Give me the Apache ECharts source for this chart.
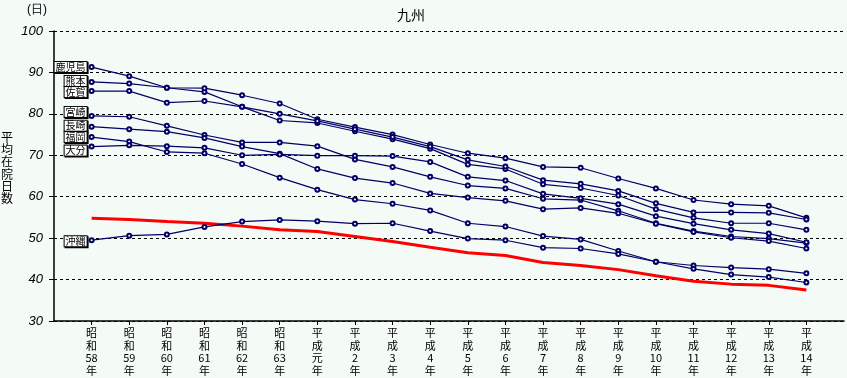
<!DOCTYPE html>
<html>
<head>
<meta charset="utf-8">
<script src="https://cdn.jsdelivr.net/npm/echarts@6/dist/echarts.min.js"></script>
<style>
  html, body { margin: 0; padding: 0; background: #f4faf6; }
  #chart { width: 847px; height: 378px; }
</style>
</head>
<body>
<div id="chart"></div>
<script>
// 年次（横軸）
var years = ['昭和58年', '昭和59年', '昭和60年', '昭和61年', '昭和62年', '昭和63年',
  '平成元年', '平成2年', '平成3年', '平成4年', '平成5年', '平成6年', '平成7年',
  '平成8年', '平成9年', '平成10年', '平成11年', '平成12年', '平成13年', '平成14年'];

// 平均在院日数（日）
var kagoshima = [91.3, 89.1, 86.3, 85.3, 81.7, 78.4, 77.8, 75.8, 73.9, 71.6, 67.8, 66.7, 63.0, 62.1, 60.3, 57.0, 54.9, 53.6, 53.6, 52.0];
var kumamoto  = [87.7, 87.3, 86.3, 86.2, 84.5, 82.5, 78.7, 76.8, 75.0, 72.6, 70.5, 69.3, 67.2, 67.0, 64.4, 62.0, 59.2, 58.2, 57.8, 54.9];
var saga      = [85.5, 85.5, 82.7, 83.1, 81.7, 80.0, 78.3, 76.3, 74.4, 72.1, 68.9, 67.3, 64.0, 63.1, 61.4, 58.4, 56.2, 56.2, 56.1, 54.5];
var miyazaki  = [79.5, 79.3, 77.1, 74.9, 73.1, 73.1, 72.2, 69.0, 67.2, 64.8, 62.7, 62.0, 59.5, 59.2, 56.6, 53.6, 51.7, 50.4, 49.9, 48.8];
var nagasaki  = [76.9, 76.3, 75.7, 74.2, 72.1, 70.4, 66.7, 64.5, 63.3, 60.8, 59.8, 59.0, 57.0, 57.3, 56.0, 53.5, 51.5, 50.1, 49.3, 47.5];
var fukuoka   = [74.4, 73.3, 70.8, 70.5, 67.9, 64.6, 61.7, 59.3, 58.3, 56.7, 53.6, 52.8, 50.5, 49.7, 46.9, 44.3, 43.4, 42.9, 42.5, 41.5];
var oita      = [72.1, 72.4, 72.2, 71.8, 70.0, 70.2, 69.9, 69.9, 69.8, 68.4, 64.8, 63.9, 60.7, 59.6, 58.2, 55.3, 53.5, 52.0, 51.1, 49.0];
var okinawa   = [49.5, 50.6, 50.9, 52.7, 54.0, 54.4, 54.1, 53.5, 53.6, 51.7, 49.9, 49.5, 47.7, 47.5, 46.2, 44.3, 42.6, 41.2, 40.6, 39.3];
var zenkoku   = [54.8, 54.5, 54.0, 53.6, 52.9, 52.0, 51.6, 50.4, 49.2, 47.8, 46.5, 45.8, 44.1, 43.4, 42.4, 40.9, 39.6, 38.9, 38.6, 37.5];

var prefs = [
  { name: '鹿児島', values: kagoshima },
  { name: '熊本', values: kumamoto },
  { name: '佐賀', values: saga },
  { name: '宮崎', values: miyazaki },
  { name: '長崎', values: nagasaki },
  { name: '福岡', values: fukuoka },
  { name: '大分', values: oita },
  { name: '沖縄', values: okinawa }
];

// 名札の上下ずれ
var nudge = { '鹿児島': 0, '熊本': -1, '佐賀': 1, '宮崎': -4, '長崎': -1, '福岡': 0, '大分': 4, '沖縄': 1 };

// 両端に空きを入れる
var cats = [''].concat(years, ['']);

function vertLabel(v) {
  if (!v) return '';
  var era = v.slice(0, 2);
  var num = v.slice(2, v.length - 1);
  return era[0] + '\n' + era[1] + '\n' + num + '\n年';
}

var series = [{
  name: '全国',
  type: 'line',
  data: [null].concat(zenkoku),
  symbol: 'none',
  lineStyle: { color: '#ff0000', width: 3 },
  itemStyle: { color: '#ff0000' },
  z: 1
}];

prefs.forEach(function (p) {
  var data = [null];
  p.values.forEach(function (v, i) {
    if (i === 0) {
      data.push({
        value: v,
        label: {
          show: true,
          position: 'left',
          distance: 2,
          offset: [0, nudge[p.name]],
          formatter: p.name,
          fontSize: 10,
          lineHeight: 10,
          fontFamily: 'Noto Sans CJK JP',
          color: '#000',
          backgroundColor: '#ffffff',
          borderColor: '#000',
          borderWidth: 1,
          padding: [0, 1, 0, 1],
          shadowColor: '#000',
          shadowOffsetX: 1,
          shadowOffsetY: 1,
          shadowBlur: 0
        }
      });
    } else {
      data.push(v);
    }
  });
  series.push({
    name: p.name,
    type: 'line',
    data: data,
    symbol: 'emptyCircle',
    symbolSize: 4,
    lineStyle: { color: '#000066', width: 1.2 },
    itemStyle: { color: '#000066', borderWidth: 1 },
    z: 3
  });
});

var myChart = echarts.init(document.getElementById('chart'));

var option = {
  backgroundColor: '#f4faf6',
  animation: false,
  title: {
    text: '九州',
    left: 392,
    top: 3,
    textStyle: { fontSize: 14, fontWeight: 'normal', color: '#000', fontFamily: 'Noto Sans CJK JP' }
  },
  graphic: [{
    type: 'text',
    left: 27,
    top: 4,
    style: { text: '(日)', fontSize: 12, fill: '#000', font: '12px "Noto Sans CJK JP"' }
  }, {
    type: 'text',
    left: 1,
    top: 131,
    style: {
      text: '平\n均\n在\n院\n日\n数',
      fill: '#000',
      font: '12px "Noto Sans CJK JP"',
      lineHeight: 12.3
    }
  }],
  grid: { left: 54, right: 0, top: 31, bottom: 57 },
  xAxis: {
    type: 'category',
    data: cats,
    boundaryGap: false,
    axisLine: { lineStyle: { color: '#000', width: 1.5 } },
    axisTick: {
      show: true,
      length: 4,
      interval: function (idx) { return idx > 0 && idx < cats.length - 1; },
      lineStyle: { color: '#000' }
    },
    axisLabel: {
      interval: 0,
      margin: 6,
      formatter: vertLabel,
      fontSize: 11,
      lineHeight: 12.5,
      color: '#000',
      fontFamily: 'Noto Sans CJK JP'
    },
    splitLine: { show: false }
  },
  yAxis: {
    type: 'value',
    min: 30,
    max: 100,
    interval: 10,
    axisLine: { show: true, lineStyle: { color: '#000', width: 1.5 } },
    axisTick: { show: true, length: 5, lineStyle: { color: '#000' } },
    axisLabel: {
      margin: 11,
      fontSize: 13,
      fontStyle: 'italic',
      color: '#000',
      fontFamily: 'Liberation Sans'
    },
    splitLine: {
      show: true,
      lineStyle: { color: '#000', type: [3, 3], width: 1 }
    }
  },
  series: series
};

myChart.setOption(option);
</script>
</body>
</html>
